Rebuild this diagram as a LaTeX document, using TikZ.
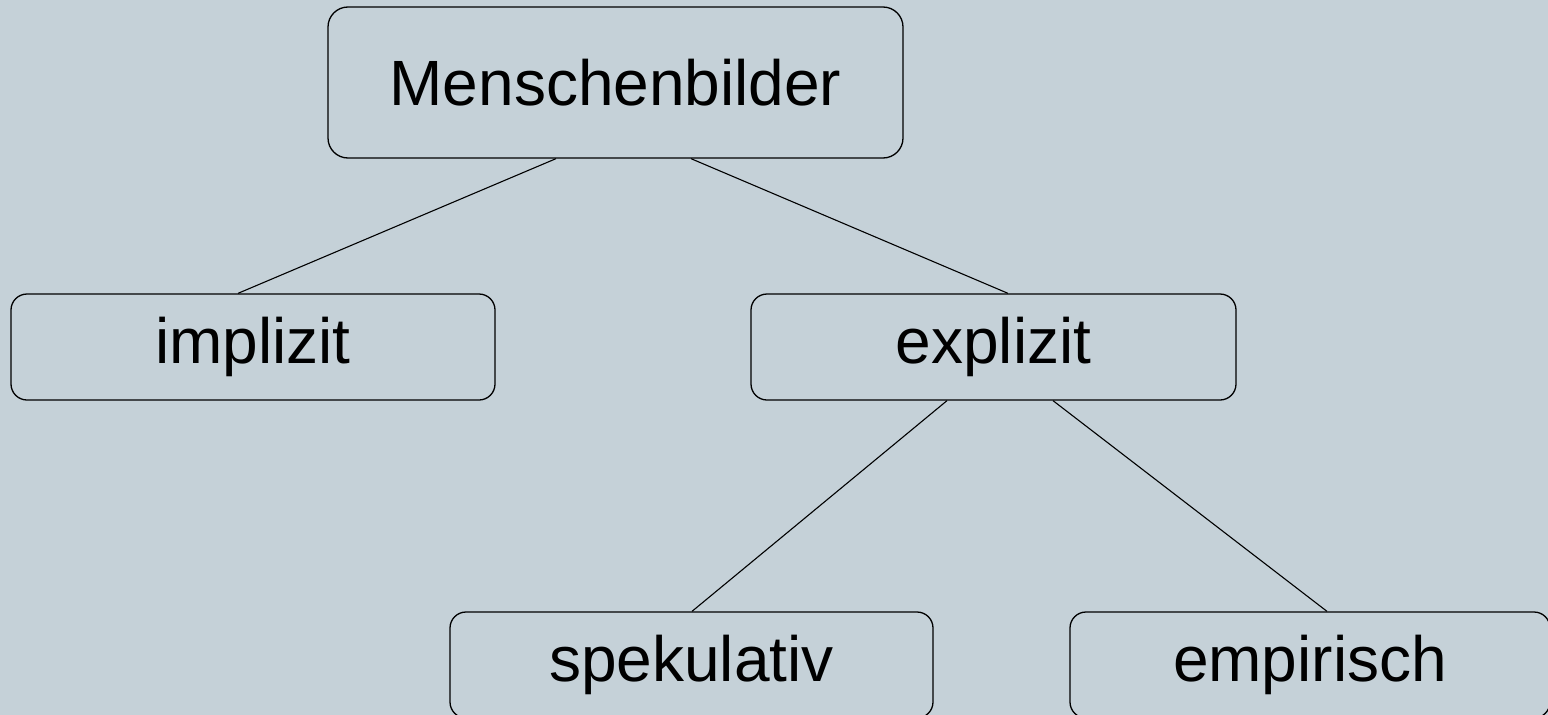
\documentclass[tikz,border=0pt]{standalone}
\usepackage{fontspec}
\setmainfont{Liberation Sans}
\definecolor{bg}{HTML}{C5D1D8}
\begin{document}
\begin{tikzpicture}[x=1pt,y=-1pt,
  box/.style={draw=black,line width=1.3pt,rounded corners=16pt,inner sep=0pt,
    font=\fontsize{64}{76}\selectfont,text=black},
  link/.style={draw=black,line width=1.1pt}]
\fill[bg] (0,0) rectangle (1548,715);
\useasboundingbox (0,0) rectangle (1548,715);
\node[box,rounded corners=20pt,minimum width=575pt,minimum height=151pt] (top) at (615.5,82.5) {Menschenbilder};
\node[box,minimum width=484pt,minimum height=106pt] (imp) at (253,347) {implizit};
\node[box,minimum width=485pt,minimum height=106pt] (exp) at (993.5,347) {explizit};
\node[box,minimum width=483pt,minimum height=106pt] (spe) at (691.5,665) {spekulativ};
\node[box,minimum width=480pt,minimum height=106pt] (emp) at (1310,665) {empirisch};
\draw[link] ([xshift=-59.5pt]top.south) -- ([xshift=-15pt]imp.north);
\draw[link] ([xshift=75.5pt]top.south) -- ([xshift=14.5pt]exp.north);
\draw[link] ([xshift=-46.5pt]exp.south) -- ([xshift=0.5pt]spe.north);
\draw[link] ([xshift=59.5pt]exp.south) -- ([xshift=17pt]emp.north);
\end{tikzpicture}
\end{document}
